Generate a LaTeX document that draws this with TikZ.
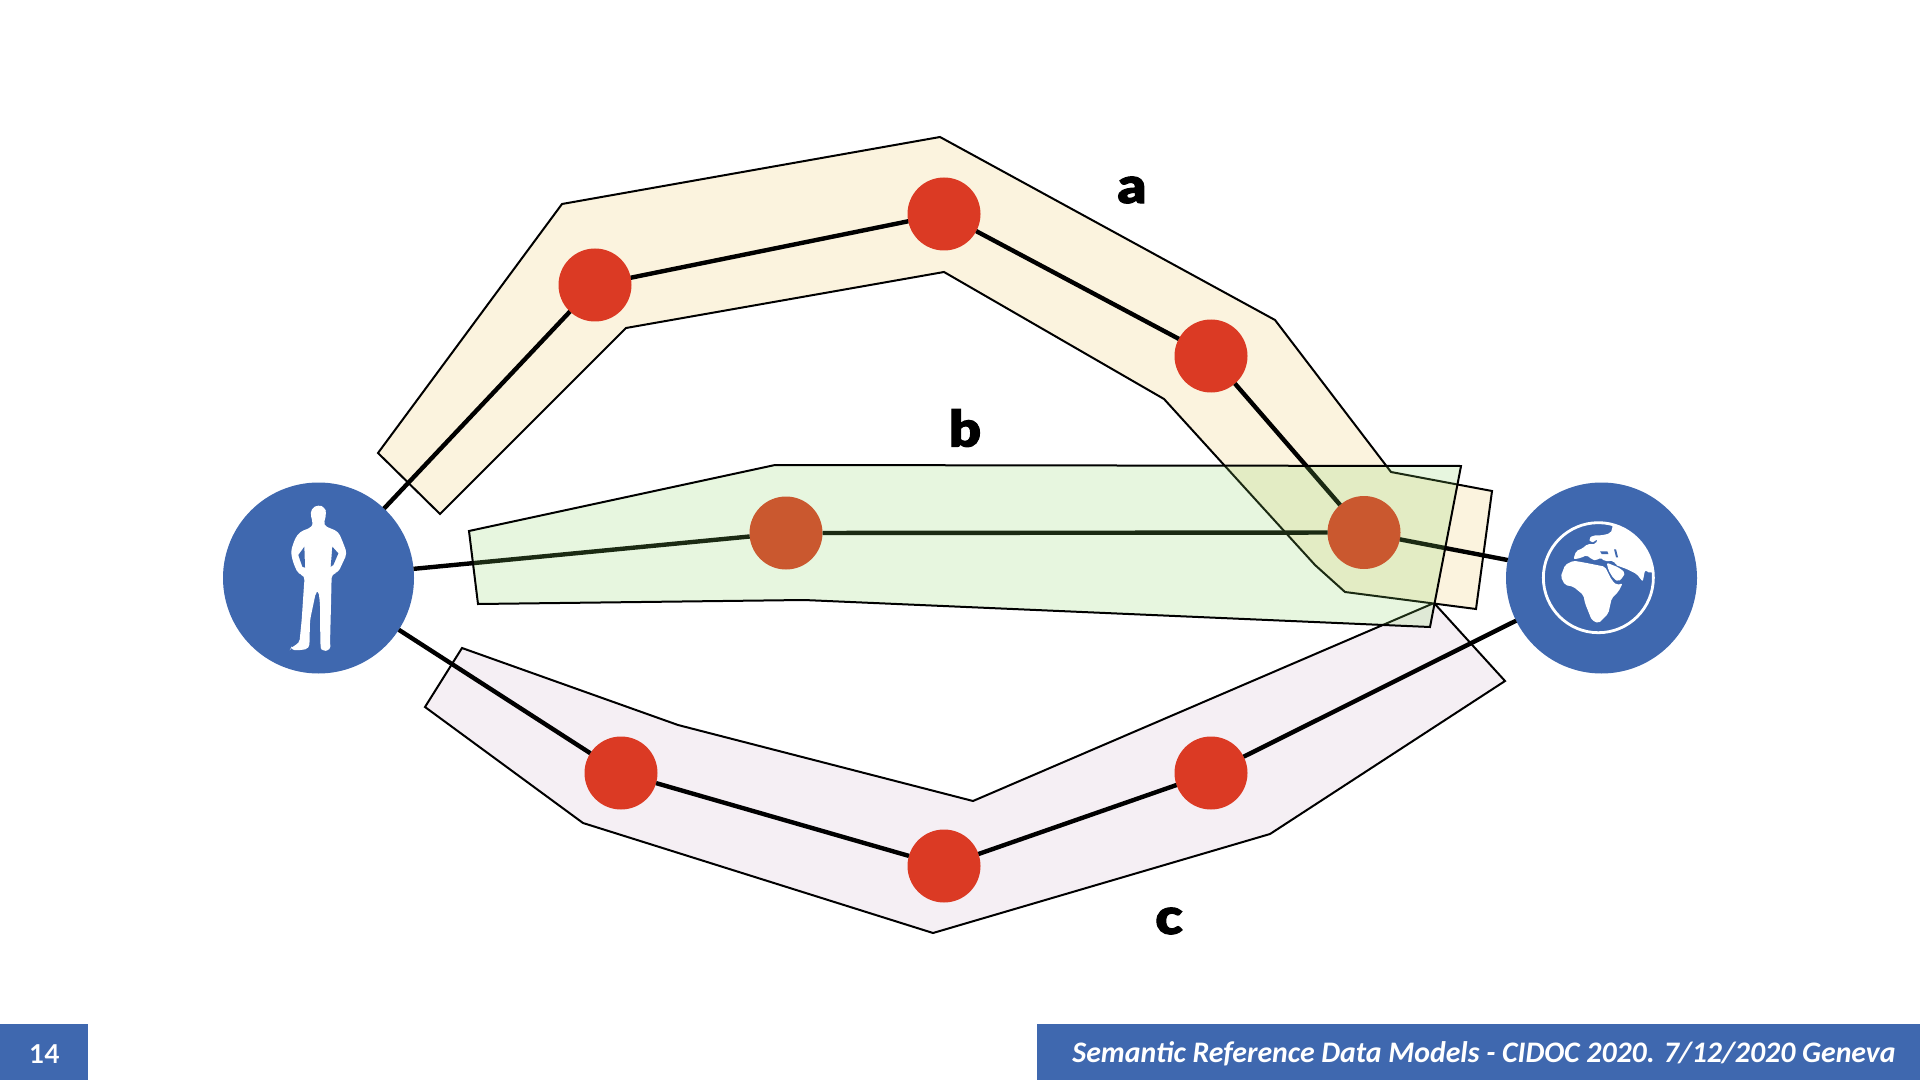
\documentclass[tikz,border=0pt]{standalone}
\usepackage{fontspec}
\setmainfont{Lato}
\newfontfamily\heavyfont[FakeBold=2,FakeStretch=1.12]{Lato Black}
\newfontfamily\footfont{Carlito}
\definecolor{slideblue}{HTML}{3F68AF}
\definecolor{dotred}{HTML}{DB3A24}
\definecolor{bandA}{HTML}{FBF3DE}
\definecolor{bandC}{HTML}{F5EFF4}
\definecolor{bandB}{RGB}{135,210,95}
\tikzset{
  hub/.style={circle,fill=slideblue,minimum size=95.5pt,inner sep=0,outer sep=0},
  dot/.style={circle,fill=dotred,minimum size=36.5pt,inner sep=0,outer sep=0},
  link/.style={line width=2.2pt},
  band/.style={draw=black,line width=1pt,line join=miter},
  letter/.style={font=\heavyfont\fontsize{25}{25}\selectfont,inner sep=0},
  footer/.style={fill=slideblue,draw=none},
  footertext/.style={text=white,inner sep=0}
}
\begin{document}
\begin{tikzpicture}[x=0.5pt,y=-0.5pt]
\useasboundingbox (0,0) rectangle (1920,1080);
% bands under everything
\draw[band,fill=bandC] (462,648)--(678,725)--(973,801)--(1434,603)--(1505,681)--(1270,834)--(933,933)--(583,823)--(425,707)--cycle;
\draw[band,fill=bandA] (378,453)--(562,204)--(940,137)--(1275,320)--(1391,472)--(1492,491)--(1476,609)--(1345,592)--(1315,565)--(1164,399)--(944,272)--(626,328)--(440,514)--cycle;
% nodes
\node[hub] (person) at (318.5,578) {};
\node[hub] (world) at (1601.5,578) {};
\node[dot] (a1) at (595,285) {};
\node[dot] (a2) at (944,214) {};
\node[dot] (a3) at (1211,356) {};
\node[dot] (m) at (1364,532.5) {};
\node[dot] (b1) at (786,533) {};
\node[dot] (c1) at (621,773) {};
\node[dot] (c2) at (944,866) {};
\node[dot] (c3) at (1211,773) {};
% connectors
\draw[link] (person)--(a1);
\draw[link] (a1)--(a2);
\draw[link] (a2)--(a3);
\draw[link] (a3)--(m);
\draw[link] (m)--(world);
\draw[link] (person)--(b1);
\draw[link] (b1)--(m);
\draw[link] (person)--(c1);
\draw[link] (c1)--(c2);
\draw[link] (c2)--(c3);
\draw[link] (c3)--(world);
% translucent band b
\draw[band,fill=bandB,fill opacity=0.2] (469,531)--(775,465)--(1461,466)--(1430,627)--(804,600)--(478,604)--cycle;
% person silhouette
\begin{scope}[shift={(210,470)},x=0.1667pt,y=-0.1667pt]
\fill[white,rounded corners=2pt] (325,104)--(345,112)--(349,130)--(344,152)--(340,166)--(385,185)--(398,215)--(411,250)--(395,285)--(384,308)--(365,312)--(363,400)--(360,520)--(362,540)--(335,544)--(331,528)--(330,400)--(325,360)--(318,365)--(300,450)--(298,535)--(270,541)--(240,539)--(245,530)--(268,520)--(275,450)--(283,330)--(285,318)--(265,312)--(250,280)--(242,245)--(255,205)--(270,185)--(305,172)--(310,160)--(302,140)--(303,116)--cycle;
\fill[slideblue] (283,230)--(265,255)--(277,290)--(285,293)--cycle;
\fill[slideblue] (367,230)--(385,250)--(370,285)--(362,290)--cycle;
\end{scope}
% globe
\begin{scope}[shift={(1490,470)},x=0.1667pt,y=-0.1667pt]
\draw[white,line width=1.4pt] (325,323) circle[radius=165];
\begin{scope}
\clip (325,323) circle[radius=165];
\fill[white,rounded corners=1pt] (367,178)--(360,190)--(335,196)--(310,196)--(296,205)--(302,218)--(315,215)--(322,205)--(318,222)--(292,222)--(278,235)--(258,243)--(250,268)--(272,264)--(290,255)--(305,268)--(320,272)--(330,262)--(345,274)--(370,272)--(378,285)--(385,288)--(410,297)--(440,312)--(458,335)--(465,300)--(480,310)--(500,300)--(500,150)--(367,150)--cycle;
\fill[white,rounded corners=1pt] (350,278)--(385,292)--(405,307)--(400,320)--(385,335)--(370,325)--(355,300)--cycle;
\fill[white,rounded corners=1pt] (225,285)--(250,272)--(285,278)--(320,285)--(345,290)--(365,330)--(380,345)--(398,340)--(385,365)--(365,385)--(355,430)--(325,460)--(305,450)--(285,400)--(280,375)--(250,350)--(225,345)--(212,320)--cycle;
\fill[slideblue] (330,244)--(352,244)--(355,252)--(335,252)--cycle;
\fill[slideblue] (372,238)--(378,238)--(384,262)--(378,262)--cycle;
\end{scope}
\end{scope}
% labels
\node[letter] (la) at (1132,190) {a};
\node[letter] (lb) at (965,428) {b};
\node[letter] (lc) at (1169,921) {c};
% footer
\fill[footer] (0,1024) rectangle (88,1080);
\fill[footer] (1037,1024) rectangle (1920,1080);
\node[footertext,font=\bfseries\fontsize{13}{13}\selectfont] (num) at (44.5,1054.5) {14};
\node[footertext,font=\footfont\bfseries\itshape\fontsize{14.9}{14.9}\selectfont,anchor=east] (foot) at (1896,1054) {Semantic Reference Data Models - CIDOC 2020. 7/12/2020 Geneva};
\end{tikzpicture}
\end{document}
